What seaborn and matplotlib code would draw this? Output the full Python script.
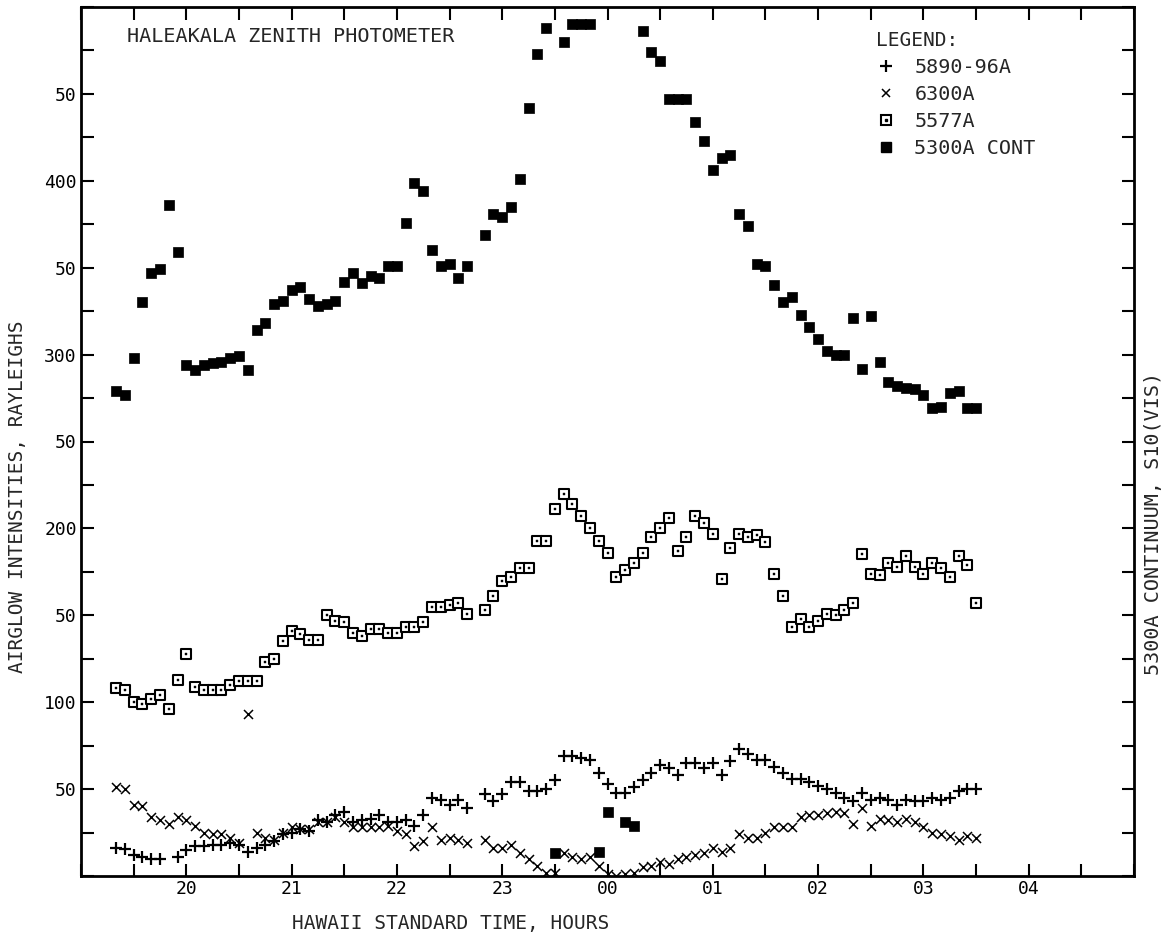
import numpy as np
import pandas as pd
import matplotlib
matplotlib.use("Agg")
import matplotlib.pyplot as plt
import seaborn as sns
from matplotlib.lines import Line2D
from matplotlib.ticker import MultipleLocator

# ---------------- data ----------------
TIME = [
    "19:20", "19:25", "19:30", "19:35", "19:40", "19:45", "19:50", "19:55",
    "20:00", "20:05", "20:10", "20:15", "20:20", "20:25", "20:30", "20:35", "20:40", "20:45", "20:50", "20:55",
    "21:00", "21:05", "21:10", "21:15", "21:20", "21:25", "21:30", "21:35", "21:40", "21:45", "21:50", "21:55",
    "22:00", "22:05", "22:10", "22:15", "22:20", "22:25", "22:30", "22:35", "22:40", "22:45", "22:50", "22:55",
    "23:00", "23:05", "23:10", "23:15", "23:20", "23:25", "23:30", "23:35", "23:40", "23:45", "23:50", "23:55",
    "00:00", "00:05", "00:10", "00:15", "00:20", "00:25", "00:30", "00:35", "00:40", "00:45", "00:50", "00:55",
    "01:00", "01:05", "01:10", "01:15", "01:20", "01:25", "01:30", "01:35", "01:40", "01:45", "01:50", "01:55",
    "02:00", "02:05", "02:10", "02:15", "02:20", "02:25", "02:30", "02:35", "02:40", "02:45", "02:50", "02:55",
    "03:00", "03:05", "03:10", "03:15", "03:20", "03:25", "03:30",
]

NA_5890 = [
    16, 15.5, 12, 11, 10, 10, None, 11,
    15, 17, 17, 18, 18, 19, 18, 14, 16, 18, 20, 24,
    25, 27, 26, 32, 31, 35, 37, 31, 32, 33, 35, 31,
    31, 32, 29, 35, 45, 44, 41, 44, 39, None, 47, 43,
    47, 54, 54, 49, 49, 50, 55, 69, 69, 68, 67, 59,
    53, 48, 48, 51, 55, 59, 64, 62, 58, 65, 65, 62,
    65, 58, 66, 73, 70, 67, 67, 63, 59, 56, 56, 54,
    52, 50, 48, 45, 43, 48, 44, 45, 44, 41, 44, 43,
    43, 45, 44, 45, 49, 50, 50,
]

OI_6300 = [
    51, 50, 41, 40, 34, 32, 30, 34,
    32, 29, 25, 24, 24, 22, 19, 93, 25, 22, 21, 25,
    28, 27, 27, 31, 31, 34, 31, 28, 28, 28, 28, 29,
    26, 24, 17, 20, 28, 21, 22, 21, 19, None, 21, 16,
    16, 18, 13, 10, 6, 2, 2, 13, 11, 10, 11, 6,
    1, 0, 1, 2, 5, 6, 8, 7, 10, 11, 12, 13,
    16, 14, 16, 24, 22, 22, 25, 28, 28, 28, 34, 35,
    35, 36, 37, 36, 30, 39, 29, 33, 32, 31, 33, 31,
    28, 25, 24, 23, 21, 23, 22,
]

OI_5577 = [
    108, 107, 100, 99, 102, 104, 96, 113,
    128, 109, 107, 107, 107, 110, 112, 112, 112, 123, 125, 135,
    141, 139, 136, 136, 150, 147, 146, 140, 138, 142, 142, 140,
    140, 143, 143, 146, 155, 155, 156, 157, 151, None, 153, 161,
    170, 172, 177, 177, 193, 193, 211, 220, 214, 207, 200, 193,
    186, 172, 176, 180, 186, 195, 200, 206, 187, 195, 207, 203,
    197, 171, 189, 197, 195, 196, 192, 174, 161, 143, 148, 143,
    147, 151, 150, 153, 157, 185, 174, 173, 180, 178, 184, 178,
    174, 180, 177, 172, 184, 179, 157,
]

CONT_5300 = [
    279, 277, 298, 330, 347, 349, 386, 359,
    294, 291, 294, 295, 296, 298, 299, 291, 314, 318, 329, 331,
    337, 339, 332, 328, 329, 331, 342, 347, 341, 345, 344, 351,
    351, 376, 399, 394, 360, 351, 352, 344, 351, None, 369, 381,
    379, 385, 401, 442, 473, 488, 13, 480, 490, 490, 490, 14,
    37, None, 31, 29, 486, 474, 469, 447, 447, 447, 434, 423,
    406, 413, 415, 381, 374, 352, 351, 340, 330, 333, 323, 316,
    309, 302, 300, 300, 321, 292, 322, 296, 284, 282, 281, 280,
    277, 269, 270, 278, 279, 269, 269,
]

SERIES_NAMES = ["5890-96A", "6300A", "5577A", "5300A CONT"]
X_TICKS = [20, 21, 22, 23, 24, 25, 26, 27, 28]
X_TICK_LABELS = ["20", "21", "22", "23", "00", "01", "02", "03", "04"]
Y_TICKS = [50, 100, 150, 200, 250, 300, 350, 400, 450]
Y_TICK_LABELS = ["50", "100", "50", "200", "50", "300", "50", "400", "50"]


def to_hours(t):
    h, m = (int(p) for p in t.split(":"))
    return h + m / 60 + (24 if h < 12 else 0)


hours = [to_hours(t) for t in TIME]
frames = []
for name, vals in zip(SERIES_NAMES, [NA_5890, OI_6300, OI_5577, CONT_5300]):
    frames.append(pd.DataFrame({
        "hours": hours,
        "value": [np.nan if v is None else v for v in vals],
        "series": name,
    }))
df = pd.concat(frames, ignore_index=True).dropna()

# ---------------- style ----------------
sns.set_style("ticks")
MONO = ["DejaVu Sans Mono"]
plt.rcParams["font.family"] = MONO

fig = plt.figure(figsize=(11.67, 9.39), dpi=100)
ax = fig.add_axes([81 / 1167, 1 - 876 / 939, (1134 - 81) / 1167, (876 - 7) / 939])

d = df[df.series == "5890-96A"]
sns.scatterplot(data=d, x="hours", y="value", marker="+", s=65, color="black",
                linewidth=1.6, ax=ax, legend=False)
d = df[df.series == "6300A"]
sns.scatterplot(data=d, x="hours", y="value", marker="x", s=42, color="black",
                linewidth=1.1, ax=ax, legend=False)
d = df[df.series == "5577A"]
sns.scatterplot(data=d, x="hours", y="value", marker="s", s=46, color="white",
                edgecolor="black", linewidth=1.5, ax=ax, legend=False, zorder=3)
sns.scatterplot(data=d, x="hours", y="value", marker="s", s=3, color="black",
                edgecolor="black", linewidth=0.3, ax=ax, legend=False, zorder=4)
d = df[df.series == "5300A CONT"]
sns.scatterplot(data=d, x="hours", y="value", marker="s", s=46, color="black",
                edgecolor="black", linewidth=0.5, ax=ax, legend=False, zorder=3)

ax.set_xlim(19.0, 29.0)
ax.set_ylim(0, 500)
ax.set_xticks(X_TICKS)
ax.set_xticklabels(X_TICK_LABELS)
ax.xaxis.set_minor_locator(MultipleLocator(0.5))
ax.set_yticks(Y_TICKS)
ax.set_yticklabels(Y_TICK_LABELS)
ax.yaxis.set_minor_locator(MultipleLocator(25))
ax.tick_params(axis="both", which="both", direction="in", top=True, right=True,
               width=1.5, length=9, labelsize=13, colors="black")
ax.tick_params(axis="x", which="major", pad=3)
ax.tick_params(axis="y", which="major", pad=3)
ax.set_xlabel("")
ax.set_ylabel("")
for sp in ax.spines.values():
    sp.set_linewidth(2)
    sp.set_color("black")
    sp.set_visible(True)

ax.text(127 / 1167, 1 - 37 / 939, "HALEAKALA ZENITH PHOTOMETER", transform=fig.transFigure,
        ha="left", va="center", fontsize=14.5)

fig.text(451 / 1167, 1 - 924 / 939, "HAWAII STANDARD TIME, HOURS", ha="center", va="center",
         fontsize=14)
fig.text(18 / 1167, 1 - 497 / 939, "AIRGLOW INTENSITIES, RAYLEIGHS", ha="center", va="center",
         rotation=90, fontsize=14)
fig.text(1153 / 1167, 1 - 523 / 939, "5300A CONTINUUM, S10(VIS)", ha="center", va="center",
         rotation=90, fontsize=14.5)

h_plus = Line2D([], [], marker="+", color="black", linestyle="none", markersize=8, markeredgewidth=1.6)
h_x = Line2D([], [], marker="x", color="black", linestyle="none", markersize=6, markeredgewidth=1.1)
h_sq = Line2D([], [], marker="s", markerfacecolor="white", markeredgecolor="black",
              linestyle="none", markersize=6.5, markeredgewidth=1.5)
h_dot = Line2D([], [], marker="s", color="black", linestyle="none", markersize=1.5)
h_fill = Line2D([], [], marker="s", color="black", linestyle="none", markersize=6.5)
leg = ax.legend([h_plus, h_x, (h_sq, h_dot), h_fill], SERIES_NAMES, title="LEGEND:",
                loc="upper left", bbox_to_anchor=(876 / 1167, 1 - 31 / 939),
                bbox_transform=fig.transFigure, frameon=False, fontsize=14.5,
                title_fontsize=14, handlelength=1.0, handletextpad=0.9,
                labelspacing=0.4, borderpad=0, borderaxespad=0)
leg._legend_box.align = "left"

fig.savefig("out.png", dpi=100, facecolor="white")
